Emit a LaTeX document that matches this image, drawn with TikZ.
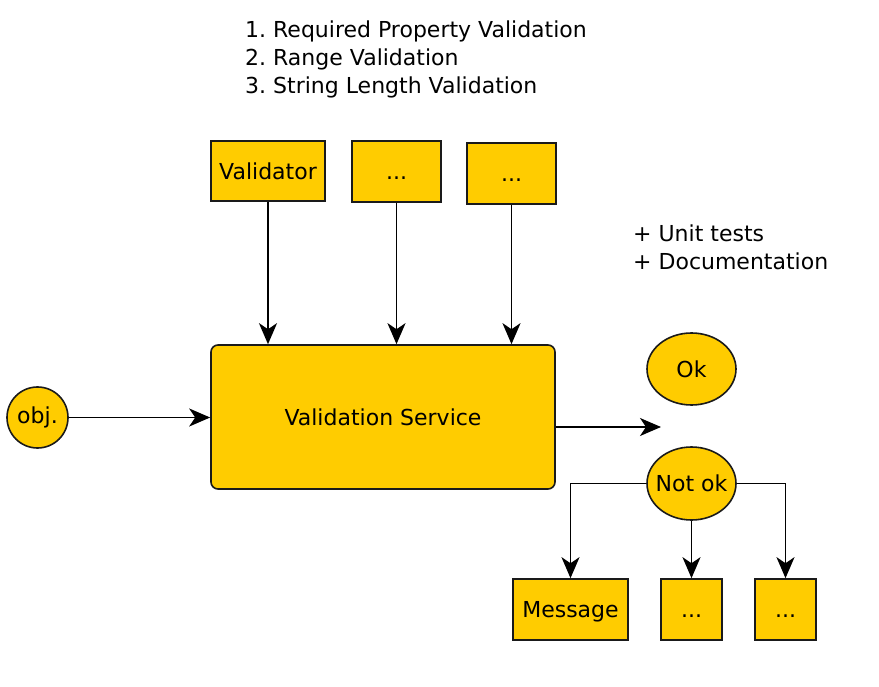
\documentclass[tikz,border=0pt]{standalone}
\usepackage{fontspec}
\setmainfont{DejaVu Sans}
\usetikzlibrary{arrows.meta,shapes.geometric}
\definecolor{boxfill}{HTML}{FFCC00}
\definecolor{boxline}{HTML}{1A1A1A}
\begin{document}
\frenchspacing
\begin{tikzpicture}[x=1pt,y=-1pt,
  every node/.style={font=\fontsize{22}{28}\selectfont, text=black},
  ybox/.style={draw=boxline, line width=1.6pt, fill=boxfill, rectangle, inner sep=0pt, anchor=center, text height=16.5pt, text depth=0pt},
  yell/.style={draw=boxline, line width=1.6pt, fill=boxfill, ellipse, inner sep=0pt, anchor=center},
  conn/.style={draw=black, line width=1.7pt, -{Stealth[length=21pt, width=18pt, inset=6pt]}},
  plain/.style={inner sep=0pt, align=left}
]
\useasboundingbox (0,0) rectangle (879,687);

% top list
\node[plain, anchor=north west] (list) at (245,21) {1. Required Property Validation\\2. Range Validation\\3. String Length Validation};

% top boxes
\node[ybox, minimum width=114pt, minimum height=60pt] (valid) at (268,171) {Validator};
\node[ybox, minimum width=89pt, minimum height=61pt] (dotsA) at (396.5,171.5) {...};
\node[ybox, minimum width=89pt, minimum height=61pt] (dotsB) at (511.5,173.5) {...};

% extras
\node[plain, anchor=north west] (extras) at (633,225) {+ Unit tests\\+ Documentation};

% service
\node[ybox, rounded corners=7pt, minimum width=344pt, minimum height=144pt] (service) at (383,417) {Validation Service};

% obj
\node[yell, circle, minimum size=61pt] (obj) at (37.5,417.5) {\makebox[0pt]{\rule{0pt}{16pt}obj.}};

% ok / not ok
\node[yell, minimum width=89pt, minimum height=72pt] (ok) at (691.5,369) {\makebox[0pt]{\rule{0pt}{16pt}Ok}};
\node[yell, minimum width=89pt, minimum height=73pt] (notok) at (691.5,483.5) {\makebox[0pt]{\rule{0pt}{16pt}Not ok}};

% bottom boxes
\node[ybox, minimum width=115pt, minimum height=61pt] (msg) at (570.5,609.5) {Message};
\node[ybox, minimum width=61pt, minimum height=61pt] (dotsC) at (691.5,609.5) {...};
\node[ybox, minimum width=61pt, minimum height=61pt] (dotsD) at (785.5,609.5) {...};

\coordinate (okend) at (661,427);

% connectors
\draw[conn] (valid.south) -- (valid.south |- service.north);
\draw[conn] (dotsA.south) -- (dotsA.south |- service.north);
\draw[conn] (dotsB.south) -- (dotsB.south |- service.north);
\draw[conn] (obj.east) -- (service.west |- obj.east);
\draw[conn] (service.east |- okend) -- (okend);
\draw[conn] (notok.west) -| (msg.north);
\draw[conn] (notok.south) -- (dotsC.north);
\draw[conn] (notok.east) -| (dotsD.north);
\end{tikzpicture}
\end{document}
